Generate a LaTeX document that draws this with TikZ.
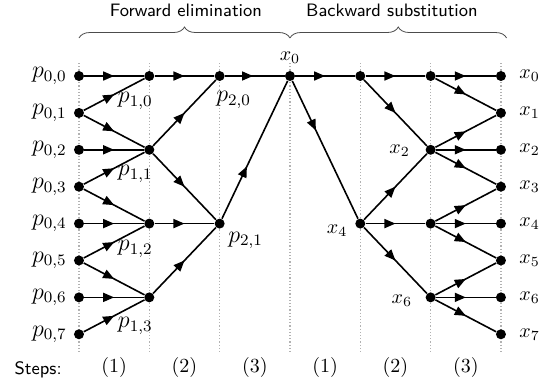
\documentclass[tikz,border=0pt]{standalone}
\usepackage{amsmath}
\usetikzlibrary{arrows.meta,decorations.markings,decorations.pathreplacing}

\begin{document}
\begin{tikzpicture}[x=35.17pt,y=-18.45pt,
  dot/.style={circle,fill,inner sep=0pt,minimum size=5pt},
  link/.style={line width=0.8pt,decoration={markings,mark=at position #1 with {\arrow{Triangle[length=5.5pt,width=4.5pt]}}},postaction={decorate}},
  link/.default=0.5,
  lbl/.style={font=\normalsize},
  plbl/.style={font=\fontsize{11.5}{13}\selectfont},
  stepsep/.style={gray!60,densely dotted,line width=0.6pt}]
\useasboundingbox (-1.123,-2.06) rectangle (6.74,8.32);
% step separators
\foreach \c in {0,...,6}
  \draw[stepsep] (\c,-0.35) -- (\c,7.5);
% headers
\draw[black!70,decorate,decoration={brace,amplitude=5.5pt}] (0,-1.03) -- (3,-1.03);
\draw[black!70,decorate,decoration={brace,amplitude=5.5pt}] (3,-1.03) -- (6.08,-1.03);
\node[font=\sffamily\small] (fwd) at (1.52,-1.79) {Forward elimination};
\node[font=\sffamily\small] (bwd) at (4.45,-1.79) {Backward substitution};
% forward elimination nodes
\foreach \r in {0,...,7}
  \node[dot,label={[plbl]left:$p_{0,\r}$}] (a\r) at (0,\r) {};
\foreach \r in {0,2,4,6}
  \node[dot] (b\r) at (1,\r) {};
\node[dot] (c0) at (2,0) {};
\node[dot] (c4) at (2,4) {};
\node[dot,label={[lbl]above:$x_0$}] (x0) at (3,0) {};
\foreach \j/\r/\dy in {0/0/0.68,1/2/0.65,2/4/0.68,3/6/0.78}
  \node[plbl] (t1\j) at ([shift={(-0.2,\dy)}]b\r) {$p_{1,\j}$};
\node[plbl] (t20) at ([shift={(0.2,0.65)}]c0) {$p_{2,0}$};
\node[plbl] (t21) at ([shift={(0.37,0.46)}]c4) {$p_{2,1}$};
% backward substitution nodes
\node[dot] (d0) at (4,0) {};
\node[dot] (d4) at (4,4) {};
\foreach \r in {0,2,4,6}
  \node[dot] (e\r) at (5,\r) {};
\foreach \r in {0,...,7}
  \node[dot,label={[lbl,label distance=3pt]right:$x_\r$}] (f\r) at (6,\r) {};
\node[lbl] (s4) at ([shift={(-0.33,0.19)}]d4) {$x_4$};
\node[lbl] (s2) at ([shift={(-0.44,0.03)}]e2) {$x_2$};
\node[lbl] (s6) at ([shift={(-0.41,0.08)}]e6) {$x_6$};
% edges
\foreach \s/\t in {a0/b0,a1/b0,a1/b2,a2/b2,a3/b2,a3/b4,a4/b4,a5/b4,a5/b6,a6/b6,a7/b6,
  b0/c0,b2/c0,b2/c4,b4/c4,b6/c4,x0/d0,d0/e0,d0/e2,d4/e2,d4/e4,d4/e6,
  e0/f0,e0/f1,e2/f1,e2/f2,e2/f3,e4/f3,e4/f4,e4/f5,e6/f5,e6/f6,e6/f7}
  \draw[link] (\s) -- (\t);
\draw[link=0.47] (c0) -- (x0);
\draw[link=0.38] (c4) -- (x0);
\draw[link=0.36] (x0) -- (d4);
% steps
\node[font=\sffamily\small] (steps) at (-0.58,7.97) {Steps:};
\foreach \k/\c in {1/0.5,2/1.5,3/2.5,1/3.5,2/4.5,3/5.5}
  \node (n\c) at (\c,7.89) {(\k)};
\end{tikzpicture}
\end{document}
